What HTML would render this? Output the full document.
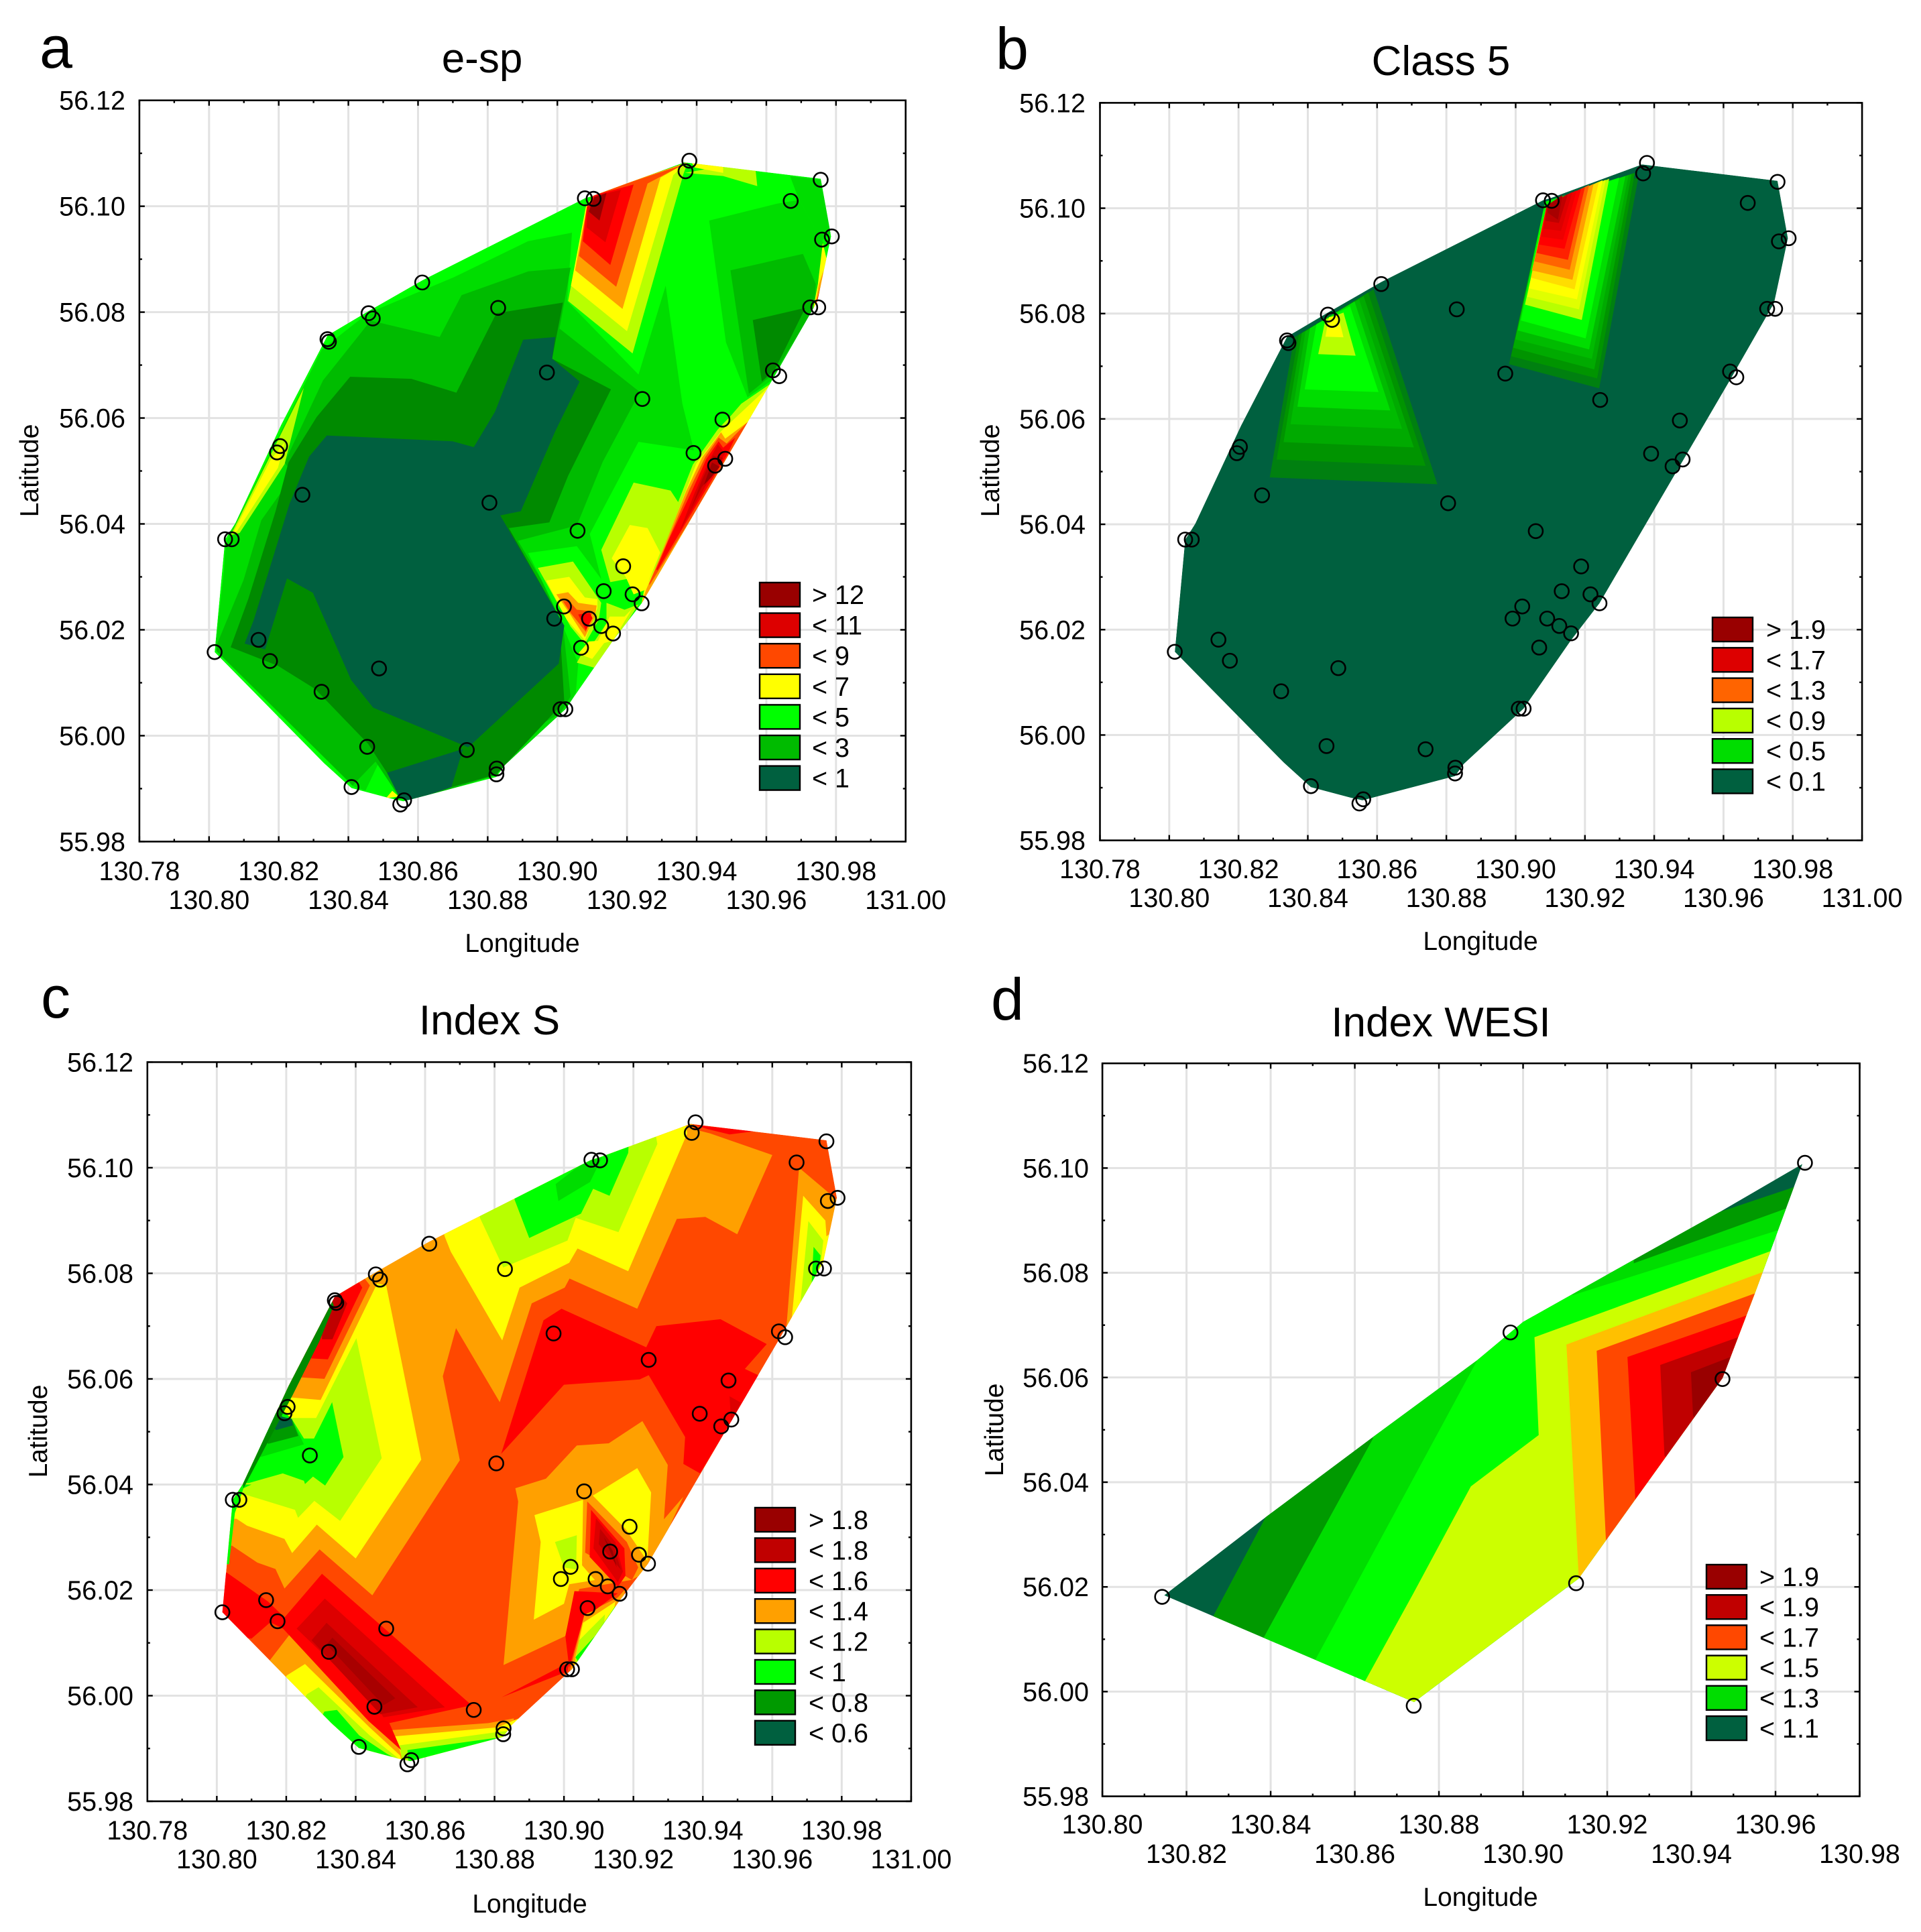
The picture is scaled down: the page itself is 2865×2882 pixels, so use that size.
<!DOCTYPE html>
<html lang="en"><head><meta charset="utf-8"><title>Contour maps of e-sp, Class 5, Index S and Index WESI</title>
<style>html,body{margin:0;padding:0;background:#fff}svg{display:block}text{font-family:"Liberation Sans",Arial,sans-serif;fill:#000}</style>
</head><body>
<svg id="figure" xmlns="http://www.w3.org/2000/svg" width="2865" height="2882" viewBox="0 0 2865 2882">
<rect width="2865" height="2882" fill="#fff"/>
<defs id="clips"></defs>
<g id="panel-a"></g>
<g id="panel-b"></g>
<g id="panel-c"></g>
<g id="panel-d"></g>
<text x="59" y="101" font-size="88">a</text>
<text x="1485" y="103" font-size="88">b</text>
<text x="61" y="1518" font-size="88">c</text>
<text x="1478" y="1521" font-size="88">d</text>
<text x="719" y="108" font-size="62" text-anchor="middle">e-sp</text>
<text x="2149" y="112" font-size="62" text-anchor="middle">Class 5</text>
<text x="730" y="1543" font-size="62" text-anchor="middle">Index S</text>
<text x="2149" y="1546" font-size="62" text-anchor="middle">Index WESI</text>
<text x="779" y="1420" font-size="39" text-anchor="middle">Longitude</text>
<text x="2208" y="1417" font-size="39" text-anchor="middle">Longitude</text>
<text x="790" y="2853" font-size="39" text-anchor="middle">Longitude</text>
<text x="2208" y="2843" font-size="39" text-anchor="middle">Longitude</text>
<text transform="translate(57 702) rotate(-90)" font-size="39" text-anchor="middle">Latitude</text>
<text transform="translate(1490 702) rotate(-90)" font-size="39" text-anchor="middle">Latitude</text>
<text transform="translate(70 2135) rotate(-90)" font-size="39" text-anchor="middle">Latitude</text>
<text transform="translate(1496 2133) rotate(-90)" font-size="39" text-anchor="middle">Latitude</text>
</svg>
<script>
/* ---------- shared data ---------- */
const stationLons=[130.8016,130.8046,130.8065,130.8142,130.8175,130.8195,130.8204,130.8268,130.8323,130.8340,130.8344,130.8409,130.8454,130.8458,130.8470,130.8488,130.8549,130.8560,130.8612,130.8740,130.8805,130.8825,130.8826,130.8830,130.8970,130.8991,130.9009,130.9023,130.9019,130.9058,130.9068,130.9079,130.9104,130.9091,130.9126,130.9133,130.9160,130.9189,130.9216,130.9242,130.9244,130.9368,130.9379,130.9391,130.9453,130.9482,130.9474,130.9619,130.9637,130.9670,130.9726,130.9749,130.9756,130.9760,130.9788];
const stationLats=[56.0158,56.0371,56.0371,56.0181,56.0141,56.0535,56.0547,56.0455,56.0083,56.0749,56.0744,55.9903,55.9979,56.0798,56.0788,56.0127,55.9870,55.9878,56.0856,55.9973,56.0440,55.9927,55.9938,56.0808,56.0686,56.0221,56.0050,56.0050,56.0244,56.0387,56.0166,56.1015,56.1014,56.0221,56.0207,56.0273,56.0193,56.0320,56.0267,56.0250,56.0636,56.1066,56.1086,56.0534,56.0510,56.0523,56.0597,56.0690,56.0679,56.1010,56.0809,56.0809,56.1050,56.0937,56.0943];
const allStations=stationLons.map((_,i)=>i);
const wesiStations=[3,19,24,34,46,49];
const lonLabelsWide=['130.78','130.80','130.82','130.84','130.86','130.88','130.90','130.92','130.94','130.96','130.98','131.00'];
const lonLabelsNarrow=['130.80','130.82','130.84','130.86','130.88','130.90','130.92','130.94','130.96','130.98'];
const latLabels=['56.12','56.10','56.08','56.06','56.04','56.02','56.00','55.98'];
const levelColors={d9:'#990000',c0:'#c00000',a0:'#a80000',dd:'#dd0000',e:'#ee0000',r:'#ff0000',ro2:'#ff2000',ro:'#ff4800',oo:'#ff6400',o:'#ffa000',am:'#ffc000',gold:'#ffdd00',y:'#ffff00',ly:'#e0ff00',yg:'#b8ff00',lm:'#ccff00',g:'#00ff00',g2:'#00dd00',g3:'#00bb00',g9:'#00aa00',g5:'#009a00',g8:'#009400',g4:'#008a00',g7:'#008010',k7:'#007030',k:'#00603f'};
const surveyHull=[[130.8016,56.0158],[130.8046,56.0371],[130.8075,56.0401],[130.8207,56.0587],[130.8340,56.0756],[130.8458,56.0802],[130.8612,56.0860],[130.9079,56.1015],[130.9104,56.1020],[130.9365,56.1083],[130.9756,56.1052],[130.9786,56.0943],[130.9765,56.0878],[130.9746,56.0820],[130.9619,56.0674],[130.9242,56.0250],[130.9160,56.0180],[130.9023,56.0050],[130.8850,55.9945],[130.8825,55.9922],[130.8558,55.9876],[130.8523,55.9881],[130.8409,55.9901],[130.8330,55.9948]];
const wesiHull=[[130.8147,56.0184],[130.8388,56.0333],[130.8643,56.0486],[130.8891,56.0633],[130.9000,56.0706],[130.9248,56.0818],[130.9467,56.0916],[130.9664,56.1008],[130.9552,56.0763],[130.9474,56.0599],[130.9263,56.0363],[130.9132,56.0216],[130.8741,55.9980]];

/* ---------- panel a: e-sp ---------- */
const espBands=[
['g',surveyHull],
['g2',[[130.8018,56.0170],[130.8043,56.0314],[130.8047,56.0362],[130.8191,56.0554],[130.8323,56.0729],[130.8456,56.0798],[130.8703,56.0866],[130.8916,56.0934],[130.9042,56.0950],[130.9028,56.0821],[130.9233,56.0682],[130.9311,56.0850],[130.9359,56.0627],[130.9392,56.0539],[130.9233,56.0555],[130.9093,56.0381],[130.9126,56.0296],[130.9056,56.0358],[130.8916,56.0345],[130.8968,56.0277],[130.9009,56.0219],[130.9060,56.0136],[130.9053,56.0081],[130.9016,56.0036],[130.8847,55.9937],[130.8581,55.9875],[130.8545,55.9883],[130.8486,55.9947],[130.8449,55.9896],[130.8412,55.9905]]],
['g2',[[130.9436,56.0973],[130.9631,56.1005],[130.9694,56.1012],[130.9764,56.0931],[130.9753,56.0814],[130.9624,56.0675],[130.9546,56.0639],[130.9484,56.0743]]],
['g2',[[130.9668,56.1057],[130.9764,56.1050],[130.9786,56.0950],[130.9760,56.0935],[130.9694,56.1012]]],
['g3',[[130.8021,56.0170],[130.8099,56.0294],[130.8150,56.0407],[130.8242,56.0492],[130.8217,56.0516],[130.8327,56.0671],[130.8464,56.0784],[130.8662,56.0753],[130.8725,56.0832],[130.8917,56.0877],[130.9038,56.0884],[130.9006,56.0769],[130.9237,56.0649],[130.9130,56.0517],[130.9056,56.0397],[130.8887,56.0368],[130.8953,56.0296],[130.9016,56.0208],[130.9038,56.0074],[130.9009,56.0043],[130.8788,55.9957],[130.8832,55.9927],[130.8581,55.9877],[130.8545,55.9885],[130.8478,55.9951],[130.8412,55.9906],[130.8021,56.0160]]],
['g3',[[130.9497,56.0879],[130.9705,56.0910],[130.9742,56.0853],[130.9738,56.0808],[130.9624,56.0685],[130.9550,56.0646]]],
['g4',[[130.8062,56.0167],[130.8113,56.0259],[130.8191,56.0424],[130.8228,56.0516],[130.8309,56.0602],[130.8405,56.0678],[130.8581,56.0674],[130.8710,56.0648],[130.8825,56.0798],[130.9016,56.0818],[130.8985,56.0712],[130.9154,56.0654],[130.9031,56.0491],[130.8977,56.0403],[130.8861,56.0392],[130.9005,56.0225],[130.9020,56.0064],[130.8825,55.9927],[130.8696,55.9903],[130.8511,55.9930],[130.8456,55.9985],[130.8305,56.0088],[130.8198,56.0132]]],
['g4',[[130.9561,56.0785],[130.9712,56.0808],[130.9624,56.0691],[130.9587,56.0669]]],
['k',[[130.8102,56.0174],[130.8128,56.0218],[130.8231,56.0438],[130.8287,56.0527],[130.8338,56.0567],[130.8699,56.0556],[130.8760,56.0545],[130.8821,56.0612],[130.8902,56.0748],[130.8994,56.0753],[130.8985,56.0712],[130.9064,56.0669],[130.8994,56.0575],[130.8895,56.0424],[130.8836,56.0416],[130.9005,56.0225],[130.9020,56.0208],[130.9004,56.0136],[130.8744,55.9978],[130.8471,56.0053],[130.8408,56.0105],[130.8298,56.0270],[130.8224,56.0297],[130.8161,56.0163]]],
['k',[[130.8511,55.9930],[130.8729,55.9975],[130.8696,55.9903],[130.8581,55.9877],[130.8548,55.9882]]],
['yg',[[130.9031,56.0821],[130.9216,56.0722],[130.9362,56.1061],[130.9373,56.1081],[130.9106,56.1023],[130.9082,56.0999]]],
['y',[[130.9039,56.0850],[130.9200,56.0764],[130.9333,56.1059],[130.9373,56.1083],[130.9106,56.1023],[130.9082,56.0999]]],
['o',[[130.9051,56.0879],[130.9187,56.0806],[130.9296,56.1054],[130.9373,56.1083],[130.9106,56.1023],[130.9085,56.0999]]],
['ro',[[130.9062,56.0906],[130.9169,56.0848],[130.9259,56.1043],[130.9360,56.1078],[130.9106,56.1023],[130.9085,56.0999]]],
['r',[[130.9073,56.0934],[130.9152,56.0889],[130.9219,56.1041],[130.9106,56.1021],[130.9085,56.0999]]],
['dd',[[130.9084,56.0960],[130.9138,56.0932],[130.9182,56.1031],[130.9106,56.1019],[130.9087,56.0997]]],
['d9',[[130.9090,56.0990],[130.9121,56.0973],[130.9141,56.1025],[130.9106,56.1017]]],
['yg',[[130.9476,56.1076],[130.9569,56.1070],[130.9574,56.1038],[130.9476,56.1057],[130.9366,56.1063]]],
['y',[[130.9381,56.1086],[130.9476,56.1076],[130.9476,56.1063],[130.9395,56.1073]]],
['yg',[[130.9219,56.0478],[130.9325,56.0463],[130.9348,56.0440],[130.9296,56.0345],[130.9259,56.0283],[130.9200,56.0296],[130.9152,56.0290],[130.9126,56.0351]]],
['y',[[130.9208,56.0398],[130.9259,56.0392],[130.9296,56.0345],[130.9259,56.0277],[130.9219,56.0267],[130.9196,56.0300],[130.9156,56.0335]]],
['yg',[[130.9628,56.0672],[130.9528,56.0627],[130.9499,56.0605],[130.9460,56.0578],[130.9389,56.0512],[130.9346,56.0440],[130.9296,56.0347],[130.9255,56.0280],[130.9242,56.0250]]],
['y',[[130.9628,56.0672],[130.9470,56.0575],[130.9399,56.0514],[130.9351,56.0432],[130.9300,56.0343],[130.9248,56.0272],[130.9242,56.0250]]],
['o',[[130.9628,56.0672],[130.9572,56.0605],[130.9482,56.0561],[130.9470,56.0573],[130.9415,56.0525],[130.9370,56.0462],[130.9293,56.0335],[130.9255,56.0276],[130.9242,56.0250]]],
['ro',[[130.9556,56.0599],[130.9486,56.0552],[130.9463,56.0563],[130.9425,56.0527],[130.9380,56.0466],[130.9309,56.0356],[130.9264,56.0288],[130.9264,56.0284],[130.9389,56.0415],[130.9550,56.0588]]],
['r',[[130.9511,56.0563],[130.9476,56.0544],[130.9463,56.0556],[130.9428,56.0523],[130.9386,56.0462],[130.9319,56.0369],[130.9284,56.0314],[130.9287,56.0312],[130.9389,56.0424],[130.9486,56.0529]]],
['dd',[[130.9461,56.0550],[130.9482,56.0533],[130.9466,56.0518],[130.9421,56.0466],[130.9351,56.0386],[130.9393,56.0457],[130.9434,56.0518]]],
['c0',[[130.9447,56.0529],[130.9476,56.0525],[130.9457,56.0502],[130.9415,56.0470],[130.9383,56.0428],[130.9415,56.0483],[130.9438,56.0516]]],
['d9',[[130.9444,56.0516],[130.9466,56.0508],[130.9441,56.0487],[130.9421,56.0474]]],
['y',[[130.9762,56.0931],[130.9775,56.0895],[130.9760,56.0840],[130.9738,56.0795],[130.9631,56.0672],[130.9734,56.0805],[130.9748,56.0853]]],
['o',[[130.9764,56.0879],[130.9756,56.0840],[130.9738,56.0792],[130.9668,56.0717],[130.9738,56.0805],[130.9751,56.0853]]],
['r',[[130.9760,56.0860],[130.9749,56.0827],[130.9738,56.0795],[130.9742,56.0815]]],
['yg',[[130.8944,56.0317],[130.9045,56.0329],[130.9126,56.0251],[130.9119,56.0219],[130.9079,56.0173],[130.9038,56.0206]]],
['y',[[130.8968,56.0293],[130.9034,56.0300],[130.9079,56.0261],[130.9115,56.0258],[130.9115,56.0241],[130.9079,56.0180],[130.9027,56.0219]]],
['o',[[130.8997,56.0267],[130.9031,56.0271],[130.9060,56.0251],[130.9113,56.0246],[130.9108,56.0225],[130.9079,56.0186],[130.9034,56.0232]]],
['ro',[[130.9016,56.0254],[130.9034,56.0254],[130.9056,56.0238],[130.9101,56.0235],[130.9082,56.0196],[130.9038,56.0232]]],
['r',[[130.9060,56.0229],[130.9093,56.0232],[130.9101,56.0222],[130.9082,56.0199]]],
['yg',[[130.9141,56.0251],[130.9193,56.0238],[130.9233,56.0248],[130.9182,56.0196],[130.9160,56.0170],[130.9108,56.0154],[130.9101,56.0173],[130.9141,56.0212]]],
['y',[[130.9150,56.0225],[130.9193,56.0225],[130.9215,56.0240],[130.9160,56.0180],[130.9110,56.0170]]],
['yg',[[130.9056,56.0138],[130.9086,56.0173],[130.9160,56.0170],[130.9108,56.0128]]],
['y',[[130.9060,56.0155],[130.9090,56.0178],[130.9140,56.0180],[130.9100,56.0145]]],
['yg',[[130.8062,56.0379],[130.8169,56.0520],[130.8272,56.0657],[130.8217,56.0513],[130.8088,56.0383]]],
['y',[[130.8069,56.0383],[130.8176,56.0520],[130.8217,56.0554],[130.8198,56.0506],[130.8080,56.0386]]],
['y',[[130.8508,55.9882],[130.8526,55.9896],[130.8545,55.9885]]]
];
const espLegendLabels=['> 12','< 11','< 9','< 7','< 5','< 3','< 1'];
const espLegendLevels=['d9','dd','ro','y','g','g3','k'];

/* ---------- panel b: Class 5 ---------- */
const classBands=[
['k',surveyHull],
['g7',[[130.8290,56.0489],[130.8774,56.0476],[130.8590,56.0846],[130.8361,56.0755]]],
['g8',[[130.8310,56.0523],[130.8740,56.0511],[130.8574,56.0840],[130.8374,56.0759]]],
['g9',[[130.8330,56.0556],[130.8706,56.0546],[130.8561,56.0833],[130.8383,56.0763]]],
['g3',[[130.8350,56.0590],[130.8672,56.0581],[130.8548,56.0827],[130.8393,56.0766]]],
['g2',[[130.8370,56.0623],[130.8638,56.0616],[130.8535,56.0823],[130.8406,56.0772]]],
['g',[[130.8391,56.0656],[130.8604,56.0651],[130.8522,56.0814],[130.8425,56.0780]]],
['yg',[[130.8430,56.0723],[130.8538,56.0720],[130.8503,56.0802],[130.8451,56.0789]]],
['y',[[130.8451,56.0756],[130.8503,56.0755],[130.8487,56.0797],[130.8461,56.0793]]],
['g7',[[130.8981,56.0704],[130.9241,56.0658],[130.9354,56.1058],[130.9085,56.1012]]],
['g8',[[130.8987,56.0719],[130.9235,56.0677],[130.9344,56.1067],[130.9085,56.1012]]],
['g9',[[130.8993,56.0735],[130.9227,56.0694],[130.9335,56.1065],[130.9085,56.1012]]],
['g3',[[130.8999,56.0751],[130.9220,56.0714],[130.9326,56.1063],[130.9085,56.1012]]],
['g2',[[130.9006,56.0768],[130.9212,56.0732],[130.9317,56.1061],[130.9085,56.1012]]],
['g',[[130.9015,56.0787],[130.9202,56.0753],[130.9299,56.1058],[130.9085,56.1012]]],
['yg',[[130.9027,56.0817],[130.9191,56.0788],[130.9270,56.1056],[130.9090,56.1006]]],
['ly',[[130.9033,56.0832],[130.9183,56.0808],[130.9260,56.1054],[130.9090,56.1006]]],
['y',[[130.9038,56.0848],[130.9177,56.0827],[130.9251,56.1053],[130.9090,56.1006]]],
['gold',[[130.9044,56.0868],[130.9170,56.0846],[130.9240,56.1050],[130.9090,56.1006]]],
['o',[[130.9047,56.0882],[130.9164,56.0864],[130.9225,56.1046],[130.9090,56.1006]]],
['oo',[[130.9054,56.0899],[130.9156,56.0883],[130.9212,56.1044],[130.9090,56.1006]]],
['ro2',[[130.9060,56.0915],[130.9151,56.0902],[130.9200,56.1040],[130.9090,56.1006]]],
['r',[[130.9067,56.0931],[130.9141,56.0923],[130.9189,56.1037],[130.9090,56.1006]]],
['e',[[130.9073,56.0946],[130.9137,56.0940],[130.9176,56.1034],[130.9090,56.1006]]],
['dd',[[130.9080,56.0961],[130.9131,56.0957],[130.9164,56.1031],[130.9090,56.1006]]],
['c0',[[130.9086,56.0976],[130.9125,56.0972],[130.9151,56.1027],[130.9090,56.1006]]],
['a0',[[130.9093,56.0991],[130.9122,56.0978],[130.9135,56.1025],[130.9092,56.1006]]]
];
const classLegendLabels=['> 1.9','< 1.7','< 1.3','< 0.9','< 0.5','< 0.1'];
const classLegendLevels=['d9','dd','oo','yg','g2','k'];

/* ---------- panel c: Index S ---------- */
const indexSBands=[
['ro',surveyHull],
['o',[[130.8044,56.0284],[130.8117,56.0252],[130.8169,56.0240],[130.8195,56.0203],[130.8296,56.0277],[130.8448,56.0190],[130.8700,56.0446],[130.8651,56.0605],[130.8689,56.0696],[130.8815,56.0556],[130.8907,56.0743],[130.9002,56.0773],[130.9016,56.0790],[130.9211,56.0733],[130.9325,56.0903],[130.9407,56.0907],[130.9499,56.0874],[130.9600,56.1024],[130.9421,56.1065],[130.9373,56.1073],[130.9300,56.1300],[130.7800,56.0600],[130.7900,56.0284]]],
['o',[[130.9677,56.1000],[130.9787,56.0939],[130.9739,56.0794],[130.9640,56.0692]]],
['y',[[130.9689,56.0947],[130.9753,56.0900],[130.9756,56.0870],[130.9769,56.0876],[130.9739,56.0802],[130.9654,56.0700]]],
['yg',[[130.9704,56.0899],[130.9747,56.0862],[130.9739,56.0814],[130.9680,56.0737]]],
['g',[[130.9719,56.0850],[130.9739,56.0834],[130.9736,56.0814],[130.9713,56.0777]]],
['y',[[130.8657,56.0869],[130.8674,56.0841],[130.8822,56.0673],[130.8872,56.0773],[130.9015,56.0820],[130.9039,56.0847],[130.9185,56.0804],[130.9355,56.1065],[130.9300,56.1300],[130.8600,56.1000]]],
['yg',[[130.8758,56.0905],[130.8825,56.0811],[130.9010,56.0862],[130.9034,56.0905],[130.9157,56.0878],[130.9269,56.1045],[130.9200,56.1300],[130.8700,56.1200]]],
['g',[[130.8858,56.0939],[130.8900,56.0867],[130.9049,56.0913],[130.9084,56.0960],[130.9131,56.0947],[130.9185,56.1028],[130.9200,56.1200],[130.8800,56.1200]]],
['g2',[[130.8976,56.0969],[130.8984,56.0937],[130.9075,56.0973],[130.9110,56.1020],[130.9058,56.1011]]],
['y',[[130.8057,56.0335],[130.8087,56.0322],[130.8195,56.0297],[130.8217,56.0270],[130.8288,56.0324],[130.8400,56.0260],[130.8589,56.0447],[130.8488,56.0777],[130.8462,56.0781],[130.8300,56.0900],[130.7900,56.0500],[130.7900,56.0335]]],
['yg',[[130.8057,56.0386],[130.8225,56.0352],[130.8234,56.0337],[130.8281,56.0369],[130.8355,56.0331],[130.8475,56.0450],[130.8402,56.0677],[130.8286,56.0526],[130.8217,56.0526],[130.8186,56.0535],[130.8100,56.0600],[130.7900,56.0386]]],
['g',[[130.8093,56.0403],[130.8190,56.0421],[130.8251,56.0407],[130.8254,56.0401],[130.8277,56.0415],[130.8312,56.0398],[130.8365,56.0452],[130.8332,56.0556],[130.8280,56.0487],[130.8251,56.0487],[130.8216,56.0524],[130.8190,56.0540],[130.8000,56.0600],[130.7900,56.0400]]],
['g2',[[130.8126,56.0452],[130.8251,56.0476],[130.8216,56.0524],[130.8190,56.0528],[130.8000,56.0600]]],
['g5',[[130.8148,56.0477],[130.8235,56.0492],[130.8216,56.0524],[130.8190,56.0528],[130.8000,56.0600]]],
['k',[[130.8171,56.0503],[130.8219,56.0512],[130.8216,56.0524],[130.8190,56.0528],[130.8000,56.0600]]],
['o',[[130.8212,56.0565],[130.8299,56.0560],[130.8462,56.0781],[130.8300,56.0900],[130.8100,56.0700]]],
['ro',[[130.8242,56.0603],[130.8310,56.0600],[130.8441,56.0777],[130.8300,56.0900],[130.8100,56.0700]]],
['r',[[130.8268,56.0639],[130.8320,56.0637],[130.8419,56.0773],[130.8300,56.0900],[130.8100,56.0700]]],
['c0',[[130.8303,56.0675],[130.8333,56.0675],[130.8376,56.0743],[130.8300,56.0800]]],
['g',[[130.8035,56.0249],[130.8052,56.0346],[130.8077,56.0393],[130.8100,56.0400],[130.7950,56.0400],[130.7950,56.0250]]],
['g4',[[130.8077,56.0393],[130.8219,56.0570],[130.8296,56.0672],[130.8337,56.0739],[130.8300,56.0800],[130.8050,56.0500]]],
['o',[[130.8154,56.0068],[130.8217,56.0122],[130.8437,55.9960],[130.8531,55.9897],[130.8549,55.9872],[130.8400,55.9700],[130.8100,56.0000]]],
['y',[[130.8203,56.0039],[130.8254,56.0060],[130.8440,55.9940],[130.8531,55.9885],[130.8549,55.9872],[130.8400,55.9700],[130.8150,56.0000]]],
['yg',[[130.8260,56.0003],[130.8293,56.0016],[130.8440,55.9925],[130.8525,55.9880],[130.8549,55.9872],[130.8400,55.9700],[130.8200,55.9950]]],
['g',[[130.8310,55.9970],[130.8346,55.9973],[130.8410,55.9925],[130.8490,55.9890],[130.8549,55.9868],[130.8400,55.9700],[130.8250,55.9900]]],
['o',[[130.8506,55.9935],[130.8782,55.9948],[130.8855,55.9957],[130.8900,55.9800],[130.8550,55.9800],[130.8531,55.9880]]],
['y',[[130.8514,55.9923],[130.8808,55.9940],[130.8870,55.9957],[130.8900,55.9800],[130.8550,55.9800],[130.8535,55.9880]]],
['yg',[[130.8527,55.9906],[130.8808,55.9931],[130.8860,55.9935],[130.8850,55.9800],[130.8550,55.9800]]],
['g',[[130.8549,55.9897],[130.8803,55.9920],[130.8840,55.9800],[130.8560,55.9800]]],
['r',[[130.8029,56.0233],[130.8148,56.0178],[130.8195,56.0148],[130.8303,56.0231],[130.8506,56.0114],[130.8734,55.9982],[130.8497,55.9948],[130.8531,55.9897],[130.8437,55.9952],[130.8191,56.0127],[130.8154,56.0139],[130.8100,56.0108],[130.7950,56.0120],[130.7900,56.0233]]],
['dd',[[130.8230,56.0127],[130.8311,56.0184],[130.8657,55.9978],[130.8480,55.9959],[130.8454,55.9986]]],
['c0',[[130.8273,56.0105],[130.8316,56.0138],[130.8579,55.9978],[130.8471,55.9965]]],
['a0',[[130.8316,56.0097],[130.8333,56.0110],[130.8514,55.9995],[130.8480,55.9982]]],
['r',[[130.8821,55.9997],[130.9002,56.0059],[130.9015,56.0063],[130.9010,56.0046]]],
['r',[[130.9237,56.0660],[130.9266,56.0700],[130.9451,56.0713],[130.9584,56.0666],[130.9521,56.0619],[130.9566,56.0605],[130.9510,56.0551],[130.9392,56.0421],[130.9344,56.0439],[130.9349,56.0490],[130.9244,56.0607],[130.9218,56.0599],[130.9000,56.0589],[130.8819,56.0458],[130.8941,56.0711],[130.8993,56.0733]]],
['o',[[130.8860,56.0393],[130.8948,56.0411],[130.9037,56.0474],[130.9129,56.0478],[130.9226,56.0520],[130.9299,56.0437],[130.9288,56.0334],[130.9344,56.0377],[130.9244,56.0235],[130.9192,56.0219],[130.9044,56.0202],[130.9004,56.0113],[130.8826,56.0058],[130.8868,56.0368]]],
['y',[[130.8915,56.0342],[130.9055,56.0371],[130.9052,56.0247],[130.9089,56.0219],[130.9015,56.0211],[130.9000,56.0174],[130.8913,56.0144],[130.8933,56.0291]]],
['y',[[130.9083,56.0379],[130.9211,56.0431],[130.9251,56.0385],[130.9240,56.0255],[130.9177,56.0316]]],
['yg',[[130.8974,56.0291],[130.9037,56.0304],[130.9035,56.0239],[130.9000,56.0243]]],
['o',[[130.9058,56.0374],[130.9185,56.0300],[130.9233,56.0239],[130.9196,56.0219],[130.9155,56.0219],[130.9052,56.0255]]],
['ro',[[130.9067,56.0368],[130.9181,56.0291],[130.9214,56.0243],[130.9196,56.0219],[130.9155,56.0235],[130.9061,56.0271]]],
['r',[[130.9078,56.0352],[130.9174,56.0279],[130.9177,56.0227],[130.9155,56.0206],[130.9074,56.0263]]],
['dd',[[130.9092,56.0336],[130.9148,56.0291],[130.9170,56.0235],[130.9155,56.0215],[130.9085,56.0279]]],
['c0',[[130.9104,56.0316],[130.9144,56.0283],[130.9164,56.0239],[130.9100,56.0287]]],
['d9',[[130.9115,56.0300],[130.9140,56.0275],[130.9152,56.0243]]],
['o',[[130.9059,56.0154],[130.9155,56.0186],[130.9177,56.0202],[130.9100,56.0000],[130.9018,56.0049]]],
['r',[[130.9030,56.0198],[130.9155,56.0194],[130.9089,56.0162],[130.9059,56.0154],[130.9015,56.0053],[130.9004,56.0113]]],
['y',[[130.9055,56.0138],[130.9148,56.0178],[130.9100,56.0000],[130.9033,56.0073]]],
['yg',[[130.9044,56.0105],[130.9118,56.0154],[130.9100,56.0000],[130.9030,56.0060]]],
['g',[[130.9033,56.0073],[130.9089,56.0113],[130.9148,56.0170],[130.9100,56.0000]]],
['r',[[130.9377,56.1081],[130.9547,56.1069],[130.9477,56.1063],[130.9414,56.1073]]],
['dd',[[130.9477,56.0567],[130.9510,56.0555],[130.9481,56.0518]]]
];
const indexSLegendLabels=['> 1.8','< 1.8','< 1.6','< 1.4','< 1.2','< 1','< 0.8','< 0.6'];
const indexSLegendLevels=['d9','c0','r','o','yg','g','g5','k'];

/* ---------- panel d: Index WESI ---------- */
const wesiBands=[
['k',wesiHull],
['g5',[[130.8264,56.0145],[130.8388,56.0333],[130.8700,56.1000],[130.9467,56.1100],[130.9467,56.0916],[130.9649,56.0965],[130.9900,56.1000],[130.9400,55.9800],[130.8500,55.9800]]],
['g2',[[130.8384,56.0104],[130.8643,56.0483],[130.8700,56.1000],[130.9263,56.1100],[130.9263,56.0818],[130.9630,56.0924],[130.9900,56.1000],[130.9400,55.9800],[130.8600,55.9800]]],
['g',[[130.8505,56.0059],[130.8891,56.0633],[130.8900,56.1000],[130.9117,56.1100],[130.9117,56.0757],[130.9613,56.0883],[130.9900,56.1000],[130.9400,55.9800],[130.8650,55.9800]]],
['lm',[[130.8621,56.0015],[130.8738,56.0186],[130.8876,56.0392],[130.9037,56.0490],[130.9027,56.0677],[130.9594,56.0843],[130.9900,56.0900],[130.9400,55.9800],[130.8700,55.9800]]],
['am',[[130.9132,56.0221],[130.9103,56.0663],[130.9572,56.0802],[130.9900,56.0800],[130.9400,56.0100]]],
['ro',[[130.9197,56.0286],[130.9175,56.0651],[130.9552,56.0761],[130.9900,56.0800],[130.9400,56.0100]]],
['r',[[130.9267,56.0365],[130.9248,56.0639],[130.9533,56.0719],[130.9900,56.0700],[130.9400,56.0200]]],
['c0',[[130.9336,56.0451],[130.9326,56.0624],[130.9511,56.0677],[130.9900,56.0700],[130.9500,56.0300]]],
['d9',[[130.9404,56.0527],[130.9399,56.0610],[130.9493,56.0639],[130.9900,56.0700],[130.9500,56.0400]]]
];
const wesiLegendLabels=['> 1.9','< 1.9','< 1.7','< 1.5','< 1.3','< 1.1'];
const wesiLegendLevels=['d9','c0','ro','lm','g2','k'];

/* ---------- drawing ---------- */
const NS='http://www.w3.org/2000/svg';
function make(parent,tag,attrs,name){
  const el=document.createElementNS(NS,tag);
  for(const k in attrs){el.setAttribute(k,attrs[k]);}
  
  
  parent.appendChild(el);
  return el;
}
function drawPanel(p){
  const g=document.getElementById(p.id);
  const lonMin=parseFloat(p.lonLabels[0]),lonMax=parseFloat(p.lonLabels[p.lonLabels.length-1]);
  const latMin=55.98,latMax=56.12;
  const x=v=>p.L+(v-lonMin)/(lonMax-lonMin)*(p.R-p.L);
  const y=v=>p.B-(v-latMin)/(latMax-latMin)*(p.B-p.T);
  const ringPts=r=>r.map(c=>x(c[0]).toFixed(1)+','+y(c[1]).toFixed(1)).join(' ');
  /* gridlines */
  p.lonLabels.forEach((t,i)=>{
    if(i===0||i===p.lonLabels.length-1)return;
    make(g,'line',{x1:x(+t),x2:x(+t),y1:p.T,y2:p.B,stroke:'#e2e2e2','stroke-width':3},'gridline-lon-'+t);
  });
  latLabels.forEach((t,i)=>{
    if(i===0||i===latLabels.length-1)return;
    make(g,'line',{x1:p.L,x2:p.R,y1:y(+t),y2:y(+t),stroke:'#e2e2e2','stroke-width':3},'gridline-lat-'+t);
  });
  /* contour bands clipped to data hull */
  const clip=document.createElementNS(NS,'clipPath');
  clip.setAttribute('id','clip-'+p.id);
  make(clip,'polygon',{points:ringPts(p.bands[0][1])},'hull-clip-shape');
  document.getElementById('clips').appendChild(clip);
  const bandGroup=make(g,'g',{'clip-path':'url(#clip-'+p.id+')'},'contour-bands');
  p.bands.forEach((b,i)=>{
    make(bandGroup,'polygon',{points:ringPts(b[1]),fill:levelColors[b[0]]},'contour-band-'+b[0]+'-'+i);
  });
  /* stations */
  p.stations.forEach(i=>{
    make(g,'circle',{cx:x(stationLons[i]),cy:y(stationLats[i]),r:10.5,fill:'none',stroke:'#000','stroke-width':2.6},'sample-point-'+i);
  });
  /* ticks */
  const tick=(x1,y1,x2,y2,name)=>make(g,'line',{x1,y1,x2,y2,stroke:'#000','stroke-width':2.4},name);
  const stepLon=(+p.lonLabels[1])-(+p.lonLabels[0]);
  p.lonLabels.forEach((t,i)=>{
    const v=+t;
    tick(x(v),p.B,x(v),p.B-8,'x-major-tick-'+t);
    tick(x(v),p.T,x(v),p.T+8,'x-major-tick-top-'+t);
    if(i<p.lonLabels.length-1){
      const m=v+stepLon/2;
      tick(x(m),p.B,x(m),p.B-4,'x-minor-tick');
      tick(x(m),p.T,x(m),p.T+4,'x-minor-tick-top');
    }
    make(g,'text',{x:x(v),y:i%2===0?p.xRow1:p.xRow2,'font-size':39.5,'text-anchor':'middle'},'x-tick-label-'+t).textContent=t;
  });
  latLabels.forEach((t,i)=>{
    const v=+t;
    tick(p.L,y(v),p.L+8,y(v),'y-major-tick-'+t);
    tick(p.R,y(v),p.R-8,y(v),'y-major-tick-right-'+t);
    if(i<latLabels.length-1){
      const m=v-0.01;
      tick(p.L,y(m),p.L+4,y(m),'y-minor-tick');
      tick(p.R,y(m),p.R-4,y(m),'y-minor-tick-right');
    }
    make(g,'text',{x:p.yLabelRight,y:y(v)+14,'font-size':39.5,'text-anchor':'end'},'y-tick-label-'+t).textContent=t;
  });
  make(g,'rect',{x:p.L,y:p.T,width:p.R-p.L,height:p.B-p.T,fill:'none',stroke:'#000','stroke-width':2.6},'plot-frame');
  /* legend */
  p.legendLabels.forEach((t,i)=>{
    const top=p.legendTop+i*p.legendPitch;
    make(g,'rect',{x:p.legendX,y:top,width:60,height:36,fill:levelColors[p.legendLevels[i]],stroke:'#000','stroke-width':2.4},'legend-swatch-'+i);
    make(g,'text',{x:p.legendTextX,y:top+32,'font-size':39.5},'legend-label-'+i).textContent=t;
  });
}
drawPanel({id:'panel-a',L:207.9,R:1350.7,T:149.7,B:1255.4,lonLabels:lonLabelsWide,bands:espBands,stations:allStations,xRow1:1313,xRow2:1356,yLabelRight:187,legendLabels:espLegendLabels,legendLevels:espLegendLevels,legendX:1133,legendTop:869,legendPitch:45.6,legendTextX:1211});
drawPanel({id:'panel-b',L:1640.5,R:2777.1,T:153.4,B:1253.6,lonLabels:lonLabelsWide,bands:classBands,stations:allStations,xRow1:1310,xRow2:1353,yLabelRight:1619,legendLabels:classLegendLabels,legendLevels:classLegendLevels,legendX:2554,legendTop:921,legendPitch:45.3,legendTextX:2634});
drawPanel({id:'panel-c',L:219.8,R:1358.9,T:1584.4,B:2687,lonLabels:lonLabelsWide,bands:indexSBands,stations:allStations,xRow1:2744,xRow2:2787,yLabelRight:199,legendLabels:indexSLegendLabels,legendLevels:indexSLegendLevels,legendX:1126,legendTop:2249,legendPitch:45.4,legendTextX:1206});
drawPanel({id:'panel-d',L:1644.1,R:2773.5,T:1586.2,B:2679.6,lonLabels:lonLabelsNarrow,bands:wesiBands,stations:wesiStations,xRow1:2735,xRow2:2779,yLabelRight:1624,legendLabels:wesiLegendLabels,legendLevels:wesiLegendLevels,legendX:2545,legendTop:2334,legendPitch:45.2,legendTextX:2624});
</script>
</body></html>
